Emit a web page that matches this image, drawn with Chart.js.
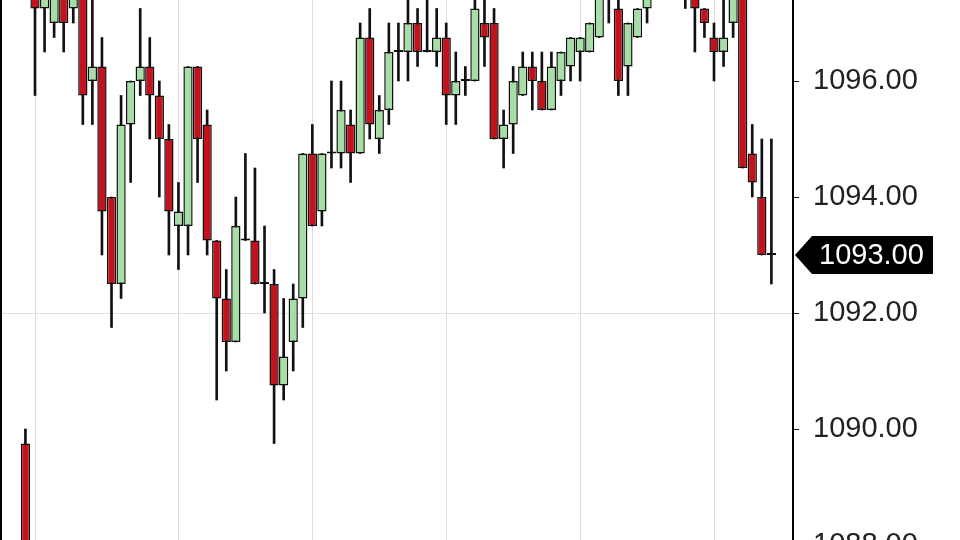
<!DOCTYPE html>
<html>
<head>
<meta charset="utf-8">
<script src="https://cdn.jsdelivr.net/npm/chart.js@4.4.1/dist/chart.umd.min.js"></script>
<style>
    html, body {
        margin: 0;
        padding: 0;
        width: 960px;
        height: 540px;
        overflow: hidden;
        background: #ffffff;
    }
    #wrap {
        position: absolute;
        left: 0;
        top: -40px;
        width: 960px;
        height: 620px;
    }
</style>
</head>
<body>
<div id="wrap">
    <canvas id="chart" width="960" height="620"></canvas>
</div>
<script>
    // bar index (first one is the last bar of the previous session)
    const bars = [];
    for (let i = -1; i <= 77; i++) bars.push(i);

    const opens = [
        1089.75, 1097.75, 1097.25, 1097.0, 1097.5, 1097.25, 1097.5, 1096.0, 1096.25, 1094.0,
        1092.5, 1095.25, 1096.0, 1096.25, 1095.75, 1095.0, 1093.5, 1093.5, 1096.25, 1095.25,
        1093.25, 1092.25, 1091.5, 1093.25, 1093.25, 1092.5, 1092.5, 1090.75, 1091.5, 1092.25,
        1094.75, 1093.75, 1094.75, 1094.75, 1095.25, 1094.75, 1096.75, 1095.0, 1095.5, 1096.5,
        1096.5, 1097.0, 1096.5, 1096.5, 1096.75, 1095.75, 1096.0, 1096.0, 1097.0, 1097.0,
        1095.0, 1095.25, 1095.75, 1096.25, 1096.0, 1095.5, 1096.0, 1096.25, 1096.5, 1096.5,
        1096.75, 1097.5, 1097.25, 1096.25, 1096.75, 1097.25, 1097.5, 1097.75, 1098.0, 1097.75,
        1097.75, 1097.25, 1096.75, 1096.5, 1097.0, 1097.5, 1094.75, 1094.0, 1093.0
    ];
    const highs = [
        1090.0, 1098.0, 1097.75, 1097.75, 1097.75, 1097.75, 1097.75, 1097.5, 1096.75, 1094.0,
        1095.75, 1096.0, 1097.25, 1096.75, 1096.0, 1095.25, 1094.25, 1096.25, 1096.25, 1095.5,
        1093.25, 1092.75, 1094.0, 1094.75, 1094.5, 1093.5, 1092.75, 1092.25, 1092.5, 1094.75,
        1095.25, 1094.75, 1096.0, 1096.0, 1095.5, 1097.0, 1097.25, 1095.75, 1097.0, 1097.0,
        1097.5, 1097.25, 1097.5, 1097.25, 1097.0, 1096.5, 1096.25, 1097.5, 1097.5, 1097.25,
        1095.5, 1096.25, 1096.5, 1096.5, 1096.5, 1096.5, 1096.5, 1096.75, 1096.75, 1097.0,
        1097.75, 1098.0, 1097.5, 1097.0, 1097.25, 1097.5, 1098.0, 1098.25, 1098.25, 1098.0,
        1098.0, 1097.25, 1097.0, 1097.5, 1097.75, 1097.75, 1095.25, 1095.0, 1095.0
    ];
    const lows = [
        1087.75, 1095.75, 1096.5, 1096.75, 1096.5, 1097.0, 1095.25, 1095.25, 1093.0, 1091.75,
        1092.25, 1094.25, 1095.75, 1095.0, 1094.0, 1093.0, 1092.75, 1093.0, 1094.25, 1093.0,
        1090.5, 1091.0, 1091.5, 1093.25, 1092.5, 1092.0, 1089.75, 1090.5, 1091.0, 1091.75,
        1093.5, 1093.5, 1094.5, 1094.5, 1094.25, 1094.75, 1095.0, 1094.75, 1095.25, 1096.0,
        1096.0, 1096.25, 1096.5, 1096.25, 1095.25, 1095.25, 1095.75, 1096.0, 1096.25, 1095.0,
        1094.5, 1094.75, 1095.75, 1095.5, 1095.5, 1095.5, 1095.75, 1096.0, 1096.0, 1096.5,
        1096.75, 1097.0, 1095.75, 1095.75, 1096.75, 1097.0, 1097.5, 1097.5, 1097.5, 1097.25,
        1096.5, 1096.75, 1096.0, 1096.25, 1096.75, 1094.5, 1094.0, 1093.0, 1092.5
    ];
    const closes = [
        1088.0, 1097.25, 1097.5, 1097.5, 1097.0, 1097.5, 1095.75, 1096.25, 1093.75, 1092.5,
        1095.25, 1096.0, 1096.25, 1095.75, 1095.0, 1093.75, 1093.75, 1096.25, 1095.0, 1093.25,
        1092.25, 1091.5, 1093.5, 1093.25, 1092.5, 1092.5, 1090.75, 1091.25, 1092.25, 1094.75,
        1093.5, 1094.75, 1094.75, 1095.5, 1094.75, 1096.75, 1095.25, 1095.5, 1096.5, 1096.5,
        1097.0, 1096.5, 1096.5, 1096.75, 1095.75, 1096.0, 1096.0, 1097.25, 1096.75, 1095.0,
        1095.25, 1096.0, 1096.25, 1096.0, 1095.5, 1096.25, 1096.5, 1096.75, 1096.75, 1097.0,
        1097.5, 1097.75, 1096.0, 1097.0, 1097.25, 1097.5, 1097.75, 1098.0, 1097.75, 1097.5,
        1097.25, 1097.0, 1096.5, 1096.75, 1097.5, 1094.5, 1094.25, 1093.0, 1093.0
    ];

    // vertical grid lines sit on these bars
    const gridBars = [0, 15, 29, 43, 57, 71];
    const hLine = 1092;

    const upColor = '#a6dea6';
    const downColor = '#c4121c';
    const lineColor = '#111111';

    const bodies = opens.map((o, i) => [o, closes[i]]);
    const wicks = lows.map((l, i) => [l, highs[i]]);
    const bodyColors = opens.map((o, i) => closes[i] < o ? downColor : upColor);

    const lastClose = closes[closes.length - 1];

    // price tag + left frame line
    const extras = {
        id: 'extras',
        afterDraw(chart) {
            const ctx = chart.ctx;
            const y = Math.round(chart.scales.y.getPixelForValue(lastClose));
            const x0 = chart.chartArea.right + 2;
            ctx.save();
            ctx.fillStyle = '#000';
            ctx.fillRect(0, 0, 2, chart.height);
            ctx.beginPath();
            ctx.moveTo(x0, y);
            ctx.lineTo(x0 + 17, y - 19);
            ctx.lineTo(933, y - 19);
            ctx.lineTo(933, y + 19);
            ctx.lineTo(x0 + 17, y + 19);
            ctx.closePath();
            ctx.fill();
            ctx.fillStyle = '#ffffff';
            ctx.font = '29px "Liberation Sans", Arial, sans-serif';
            ctx.textBaseline = 'middle';
            ctx.textAlign = 'left';
            ctx.fillText(lastClose.toFixed(2), 819, y + 1);
            ctx.restore();
        }
    };

    new Chart(document.getElementById('chart'), {
        type: 'bar',
        data: {
            labels: bars,
            datasets: [
                {
                    label: 'wick',
                    data: wicks,
                    backgroundColor: lineColor,
                    barThickness: 2,
                    grouped: false,
                    order: 2
                },
                {
                    label: 'body',
                    data: bodies,
                    backgroundColor: bodyColors,
                    borderColor: lineColor,
                    borderWidth: 1.5,
                    borderSkipped: false,
                    minBarLength: 2,
                    barPercentage: 0.97,
                    categoryPercentage: 1,
                    grouped: false,
                    order: 1
                }
            ]
        },
        options: {
            responsive: false,
            animation: false,
            devicePixelRatio: 1,
            layout: {padding: 0},
            plugins: {
                legend: {display: false},
                tooltip: {enabled: false}
            },
            scales: {
                x: {
                    type: 'linear',
                    min: -3.66,
                    max: 79.26,
                    offset: false,
                    afterBuildTicks: scale => {
                        scale.ticks = gridBars.map(v => ({value: v}));
                    },
                    ticks: {display: false},
                    border: {display: false},
                    grid: {
                        color: '#dcdcdc',
                        lineWidth: 1,
                        drawTicks: false,
                        offset: false
                    }
                },
                y: {
                    position: 'right',
                    min: 1087.3966,
                    max: 1098.0862,
                    afterFit: scale => {
                        scale.width = 167;
                        scale.paddingTop = 0;
                        scale.paddingBottom = 0;
                    },
                    border: {display: true, color: '#000', width: 2},
                    ticks: {
                        stepSize: 2,
                        includeBounds: false,
                        padding: 14,
                        color: '#222',
                        font: {family: '"Liberation Sans", Arial, sans-serif', size: 29},
                        callback: value => value.toFixed(2)
                    },
                    grid: {
                        color: ctx => (ctx.tick && ctx.tick.value === hLine) ? '#e2e2e2' : 'rgba(0,0,0,0)',
                        tickColor: '#111',
                        tickLength: 6,
                        lineWidth: 1
                    }
                }
            }
        },
        plugins: [extras]
    });
</script>
</body>
</html>
